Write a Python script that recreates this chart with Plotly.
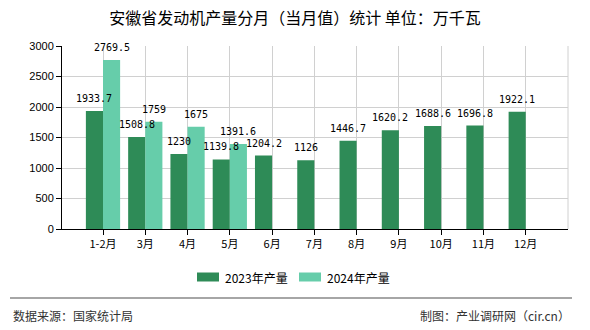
import plotly.graph_objects as go

categories = ["1-2月", "3月", "4月", "5月", "6月", "7月", "8月", "9月", "10月", "11月", "12月"]
values_2023 = [1933.7, 1508.8, 1230, 1139.8, 1204.2, 1126, 1446.7, 1620.2, 1688.6, 1696.8, 1922.1]
values_2024 = [2769.5, 1759, 1675, 1391.6, None, None, None, None, None, None, None]
series_names = ["2023年产量", "2024年产量"]
colors = ["#2e8b57", "#66cdaa"]
title_text = "安徽省发动机产量分月（当月值）统计 单位：万千瓦"
source_text = "数据来源：国家统计局"
maker_text = "制图：产业调研网（cir.cn）"

W, H = 590, 330
L, R, T, B = 62, 22, 46, 101
pw, ph = W - L - R, H - T - B
x_range = [-0.97, 11]
bargap = 0.19

def px(x):
    return (x - L) / pw

def py(y):
    return (H - B - y) / ph

def fmt(v):
    return ("%g" % v)

mono = "DejaVu Sans Mono, Liberation Mono, monospace"
fig = go.Figure()
for name, vals, col in zip(series_names, [values_2023, values_2024], colors):
    fig.add_trace(go.Bar(
        x=list(range(len(categories))), y=vals, name=name,
        marker=dict(color=col, line=dict(width=0)),
        showlegend=False,
    ))

fig.update_layout(
    width=W, height=H,
    margin=dict(l=L, r=R, t=T, b=B, pad=0),
    paper_bgcolor="white", plot_bgcolor="white",
    barmode="group", bargap=bargap, bargroupgap=0,
    title=dict(text=title_text, x=0.5, xanchor="center", y=1 - 18 / H, yanchor="middle",
               font=dict(family="Noto Sans CJK SC", size=16, color="#000")),
    xaxis=dict(
        range=x_range, tickmode="array", tickvals=list(range(len(categories))),
        ticktext=categories, showgrid=True, gridcolor="#d0d0d0", gridwidth=1,
        showline=True, linecolor="#000", linewidth=1, ticks="outside", ticklen=5,
        tickcolor="#000", zeroline=False, mirror=False,
        tickfont=dict(family="Noto Sans CJK SC", size=11, color="#000"),
    ),
    yaxis=dict(
        range=[0, 3000], tickvals=[0, 500, 1000, 1500, 2000, 2500, 3000],
        showgrid=True, gridcolor="#d0d0d0", gridwidth=1,
        showline=True, linecolor="#000", linewidth=1, ticks="outside", ticklen=5,
        tickcolor="#000", zeroline=False,
        tickfont=dict(family="Liberation Sans", size=11, color="#000"),
    ),
    font=dict(family="Noto Sans CJK SC"),
)

shapes = []
shapes.append(dict(type="line", xref="paper", yref="paper", x0=1, x1=1, y0=0, y1=1,
                   line=dict(color="#d0d0d0", width=1)))
leg_y = 277
for x0, col in [(197, colors[0]), (299, colors[1])]:
    shapes.append(dict(type="rect", xref="paper", yref="paper",
                       x0=px(x0), x1=px(x0 + 22), y0=py(leg_y - 4.5), y1=py(leg_y + 4.5),
                       fillcolor=col, line=dict(width=0)))
shapes.append(dict(type="line", xref="paper", yref="paper", x0=px(10), x1=px(572),
                   y0=py(298), y1=py(298), line=dict(color="#888", width=1.5)))
fig.update_layout(shapes=shapes)

ann = []
unit_px = pw / (x_range[1] - x_range[0])
bar_w = unit_px * (1 - bargap) / 2
for k, vals in enumerate([values_2023, values_2024]):
    shift = (k - 0.5) * bar_w
    for i, v in enumerate(vals):
        if v is None:
            continue
        ann.append(dict(text=fmt(v), xref="x", yref="y", x=i, y=v, xshift=shift, yshift=5,
                        xanchor="center", yanchor="bottom", showarrow=False,
                        font=dict(family=mono, size=10, color="#000")))
for x0, name in [(223, series_names[0]), (325, series_names[1])]:
    ann.append(dict(text=name, xref="paper", yref="paper", x=px(x0), y=py(leg_y),
                    xanchor="left", yanchor="middle", showarrow=False,
                    font=dict(family="Noto Sans CJK SC", size=12, color="#000")))
ann.append(dict(text=source_text, xref="paper", yref="paper", x=px(11), y=py(315),
                xanchor="left", yanchor="middle", showarrow=False,
                font=dict(family="Noto Sans CJK SC", size=12, color="#333")))
ann.append(dict(text=maker_text, xref="paper", yref="paper", x=px(572), y=py(315),
                xanchor="right", yanchor="middle", showarrow=False,
                font=dict(family="Noto Sans CJK SC", size=12, color="#333")))
fig.update_layout(annotations=ann)

fig.write_html("out.html")
